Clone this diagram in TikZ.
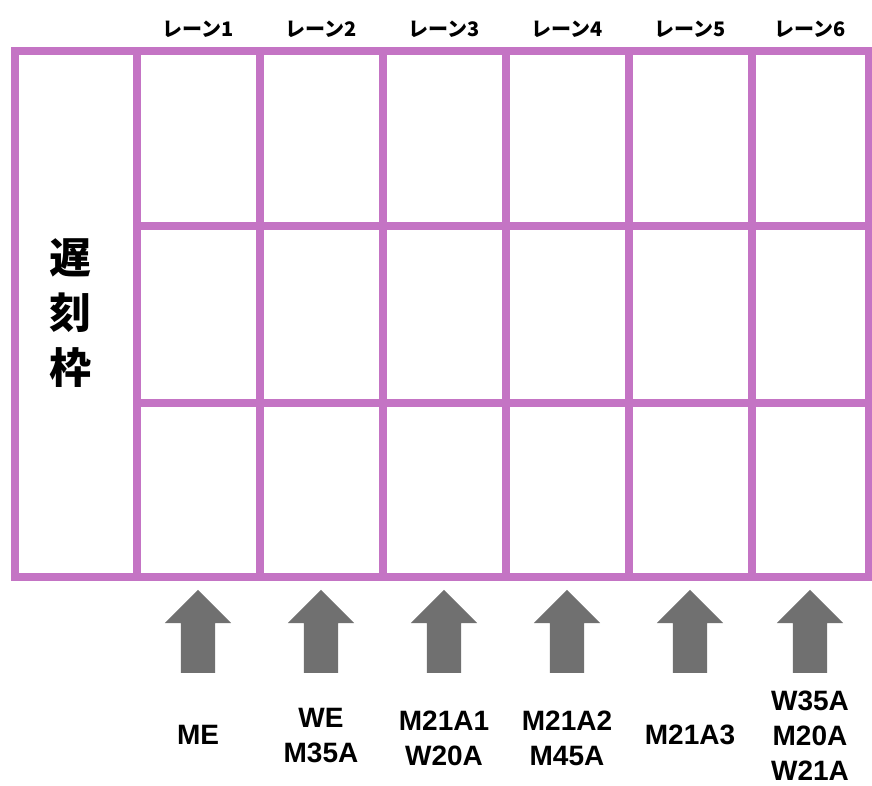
\documentclass[tikz,border=0pt]{standalone}
\usepackage{fontspec}
\setmainfont{Liberation Sans}
\newfontfamily\cjk{Noto Sans CJK JP}
\usetikzlibrary{shapes.arrows}
\definecolor{lanepurple}{RGB}{196,116,196}
\definecolor{arrowgray}{RGB}{112,112,112}

\begin{document}
\begin{tikzpicture}[x=1pt,y=-1pt,
                    grid line/.style={draw=lanepurple,line width=7.5pt},
                    lane label/.style={font=\cjk\bfseries\fontsize{20}{22}\selectfont,inner sep=0pt},
                    late label/.style={font=\cjk\bfseries\fontsize{42}{55}\selectfont,align=center,inner sep=0pt},
                    entry arrow/.style={single arrow,fill=arrowgray,draw=none,rotate=90,
                                        minimum width=66pt,minimum height=83pt,inner xsep=0pt,inner ysep=17pt,
                                        single arrow head extend=16pt,single arrow tip angle=90},
                    entry label/.style={font=\bfseries\fontsize{28}{35}\selectfont,align=center,inner sep=0pt}]
        \useasboundingbox (0,0) rectangle (872,785);

        % Define grid
        \draw[grid line] (15,51) rectangle (869,577);
        \draw[grid line] (137,51) -- (137,577);
        \draw[grid line] (260,51) -- (260,577);
        \draw[grid line] (383,51) -- (383,577);
        \draw[grid line] (506,51) -- (506,577);
        \draw[grid line] (629,51) -- (629,577);
        \draw[grid line] (752,51) -- (752,577);
        \draw[grid line] (137,226) -- (869,226);
        \draw[grid line] (137,403) -- (869,403);

        % Define lane labels
        \node[lane label] (lane1) at (198,29) {レーン1};
        \node[lane label] (lane2) at (321,29) {レーン2};
        \node[lane label] (lane3) at (444,29) {レーン3};
        \node[lane label] (lane4) at (567,29) {レーン4};
        \node[lane label] (lane5) at (690,29) {レーン5};
        \node[lane label] (lane6) at (810,29) {レーン6};
        \node[late label] (late) at (70,313) {遅\\刻\\枠};

        % Define arrows
        \node[entry arrow] (arrow1) at (198,640) {};
        \node[entry arrow] (arrow2) at (321,640) {};
        \node[entry arrow] (arrow3) at (444,640) {};
        \node[entry arrow] (arrow4) at (567,640) {};
        \node[entry arrow] (arrow5) at (690,640) {};
        \node[entry arrow] (arrow6) at (810,640) {};

        % Define entries
        \node[entry label] (entry1) at (198,735) {ME};
        \node[entry label] (entry2) at (321,736) {WE\\M35A};
        \node[entry label] (entry3) at (444,738) {M21A1\\W20A};
        \node[entry label] (entry4) at (567,738) {M21A2\\M45A};
        \node[entry label] (entry5) at (690,735) {M21A3};
        \node[entry label] (entry6) at (810,736) {W35A\\M20A\\W21A};
\end{tikzpicture}
\end{document}
